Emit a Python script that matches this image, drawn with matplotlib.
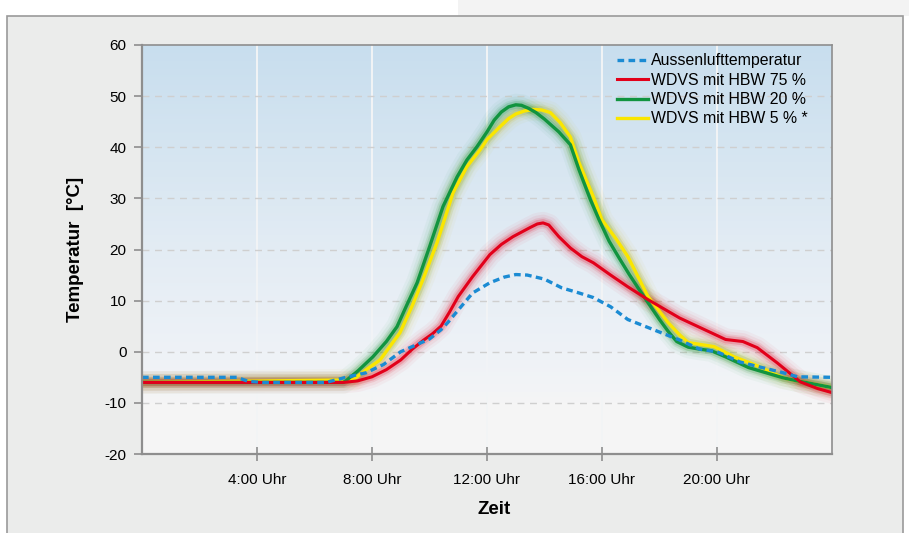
import matplotlib
matplotlib.use("Agg")
import matplotlib.pyplot as plt
import numpy as np
from matplotlib.colors import LinearSegmentedColormap
from matplotlib.patches import Rectangle

plt.rcParams["font.family"] = ["Liberation Sans", "DejaVu Sans"]

# Aussenlufttemperatur (blue dotted)
aussen_h = [0, 3.3, 3.7, 4.2, 6.4, 7.1, 7.8, 8.4, 9.0, 9.6, 10.0, 10.4, 10.65, 10.9, 11.5,
            12.1, 12.6, 13.0, 13.4, 14.0, 14.6, 15.2, 15.7, 16.3, 16.9, 17.8, 18.7, 19.4,
            20.0, 20.8, 21.5, 22.3, 22.8, 24]
aussen_t = [-5, -5, -5.8, -6, -6, -5, -4.1, -2.5, 0, 1.5, 2.5, 4.3, 5.8, 7.5, 11.5,
            13.5, 14.6, 15.1, 15.0, 14.2, 12.5, 11.5, 10.6, 8.8, 6.3, 4.3, 2.3, 0.5,
            0, -2, -3, -4.1, -4.9, -5]

# WDVS mit HBW 75 % (red)
hbw75_h = [0, 7.0, 7.5, 8.0, 8.5, 9.0, 9.4, 9.8, 10.1, 10.4, 10.7, 11.0, 11.5, 12.1, 12.5,
           12.9, 13.5, 13.75, 13.95, 14.15, 14.5, 14.9, 15.3, 15.7, 16.3, 16.9, 17.6,
           18.7, 19.5, 20.3, 20.9, 21.4, 22.1, 22.9, 23.5, 24]
hbw75_t = [-6, -6, -5.7, -4.9, -3.5, -1.6, 0.5, 2.3, 3.5, 5, 7.8, 10.8, 14.7, 19, 21,
           22.5, 24.3, 25.0, 25.2, 24.8, 22.5, 20.3, 18.6, 17.4, 15.0, 12.7, 10.2,
           6.6, 4.5, 2.4, 2.0, 0.8, -2.2, -5.9, -7.2, -8]

# WDVS mit HBW 20 % (green)
hbw20_h = [0, 7.0, 7.13, 7.5, 8.03, 8.5, 8.87, 9.2, 9.57, 10.0, 10.47, 10.96, 11.3, 11.65,
           12.0, 12.25, 12.5, 12.75, 13.0, 13.2, 13.45, 13.7, 14.0, 14.5, 14.9, 15.2, 15.6,
           15.9, 16.25, 16.6, 16.95, 17.3, 18.0, 18.3, 18.6, 19.0, 19.4, 19.8, 20.3, 21.1,
           22.3, 22.8, 24]
hbw20_t = [-6, -6, -5.5, -3.8, -1, 2, 4.9, 9, 13.5, 20.5, 28.4, 34.2, 37.5, 40.1,
           43, 45.3, 46.9, 47.9, 48.3, 48.2, 47.6, 46.8, 45.5, 43, 40.5, 35.6, 29.7,
           25.8, 21.6, 18.3, 15.1, 12.1, 6.3, 4.0, 2.0, 0.9, 0.5, 0.2, -1, -3.1,
           -5.1, -5.7, -7]

# WDVS mit HBW 5 % * (yellow)
hbw5_h = [0, 7.35, 7.8, 8.28, 8.97, 9.4, 9.77, 10.26, 10.82, 11.3, 11.76, 12.0, 12.45,
          12.75, 13.0, 13.3, 13.6, 13.9, 14.2, 14.55, 14.9, 15.2, 15.7, 16.0, 16.5, 16.9,
          17.6, 18.3, 18.7, 19.0, 19.9, 20.6, 21.3, 22.3, 22.8, 24]
hbw5_t = [-6, -5.5, -3.5, -1.6, 3.7, 9, 14.1, 21.3, 31.1, 36.2, 39.5, 41.5, 44,
          45.6, 46.5, 47.1, 47.4, 47.3, 46.8, 44.8, 42, 37, 30.3, 25.8, 22, 18.6,
          10.8, 5.7, 3.3, 1.8, 1.0, -1, -2.5, -5.1, -5.7, -7]

x_ticks = [4, 8, 12, 16, 20]
x_labels = ["4:00 Uhr", "8:00 Uhr", "12:00 Uhr", "16:00 Uhr", "20:00 Uhr"]
y_ticks = [-20, -10, 0, 10, 20, 30, 40, 50, 60]

BLUE = "#1b8bd3"
RED = "#e2001a"
GREEN = "#11943f"
YELLOW = "#fae600"

fig = plt.figure(figsize=(9.09, 5.33), dpi=100, facecolor="white")

# page background: light grey panel with a thin border
fig.add_artist(Rectangle((458 / 909, 1 - 16 / 533), 1, 1, transform=fig.transFigure,
                         facecolor="#f3f3f3", edgecolor="none", zorder=-2))
fig.add_artist(Rectangle((7 / 909, -0.01), (903 - 7) / 909, 1 - 16 / 533 + 0.01,
                         transform=fig.transFigure, facecolor="#ebeceb",
                         edgecolor="#9a9a9a", linewidth=1.2, zorder=-1))

ax = fig.add_axes([142 / 909, 1 - 454 / 533, 690 / 909, 409 / 533])
ax.set_xlim(0, 24)
ax.set_ylim(-20, 60)

# vertical gradient behind the plot
grad_cmap = LinearSegmentedColormap.from_list(
    "bg",
    [(0.0, "#f6f6f6"), (0.125, "#f5f5f5"), (0.15, "#f3f4f6"), (0.25, "#eef2f7"),
     (0.5, "#e3ecf4"), (0.75, "#d5e5f1"), (1.0, "#c8deee")],
)
grad = np.linspace(0, 1, 256).reshape(-1, 1)
ax.imshow(grad, extent=[0, 24, -20, 60], origin="lower", aspect="auto",
          cmap=grad_cmap, zorder=0)

for xt in x_ticks:
    ax.axvline(xt, color="#f2f4f6", linewidth=1.4, zorder=1)
for yt in y_ticks[1:-1]:
    ax.axhline(yt, color="#cfcfcf", linewidth=1.0, dashes=(5, 4), zorder=1)


def glow_line(x, y, color, z):
    for lw, a in [(16, 0.04), (12, 0.06), (8, 0.10), (5.5, 0.18)]:
        ax.plot(x, y, color=color, linewidth=lw, alpha=a, solid_capstyle="round",
                solid_joinstyle="round", zorder=z)


glow_line(hbw5_h, hbw5_t, "#c9b400", 2)
glow_line(hbw20_h, hbw20_t, GREEN, 2)
glow_line(hbw75_h, hbw75_t, RED, 2)

l_y, = ax.plot(hbw5_h, hbw5_t, color=YELLOW, linewidth=2.4, zorder=3,
               solid_joinstyle="round", label="WDVS mit HBW 5 % *")
l_g, = ax.plot(hbw20_h, hbw20_t, color=GREEN, linewidth=2.4, zorder=4,
               solid_joinstyle="round", label="WDVS mit HBW 20 %")
l_r, = ax.plot(hbw75_h, hbw75_t, color=RED, linewidth=2.2, zorder=5,
               solid_joinstyle="round", label="WDVS mit HBW 75 %")
l_b, = ax.plot(aussen_h, aussen_t, color=BLUE, linewidth=2.4, zorder=6,
               linestyle=(0, (2.0, 1.3)), dash_capstyle="butt",
               label="Aussenlufttemperatur")

for side in ["left", "right", "top", "bottom"]:
    ax.spines[side].set_color("#8e8e8e")
    ax.spines[side].set_zorder(7)
ax.spines["left"].set_linewidth(1.6)
ax.spines["bottom"].set_linewidth(1.6)
ax.spines["top"].set_linewidth(1.2)
ax.spines["right"].set_linewidth(1.2)

ax.set_xticks(x_ticks, x_labels)
ax.set_yticks(y_ticks, [str(v) for v in y_ticks])
ax.tick_params(axis="x", direction="inout", length=10, width=1.2, color="#8e8e8e",
               labelsize=11, pad=9)
ax.tick_params(axis="y", direction="out", length=6, width=1.2, color="#8e8e8e",
               labelsize=11, pad=5)

ax.set_xlabel("Zeit", fontsize=13.5, fontweight="bold")
ax.xaxis.set_label_coords(0.51, -0.114)
ax.set_ylabel("Temperatur  [°C]", fontsize=13.5, fontweight="bold")
ax.yaxis.set_label_coords(-0.084, 0.5)

leg = ax.legend(handles=[l_b, l_r, l_g, l_y], loc="upper left",
                bbox_to_anchor=(0.688, 0.98), frameon=False, fontsize=11.4,
                handlelength=1.95, handletextpad=0.2, labelspacing=0.28,
                borderpad=0, borderaxespad=0)
leg.set_zorder(8)

fig.savefig("out.png", dpi=100, facecolor=fig.get_facecolor())
